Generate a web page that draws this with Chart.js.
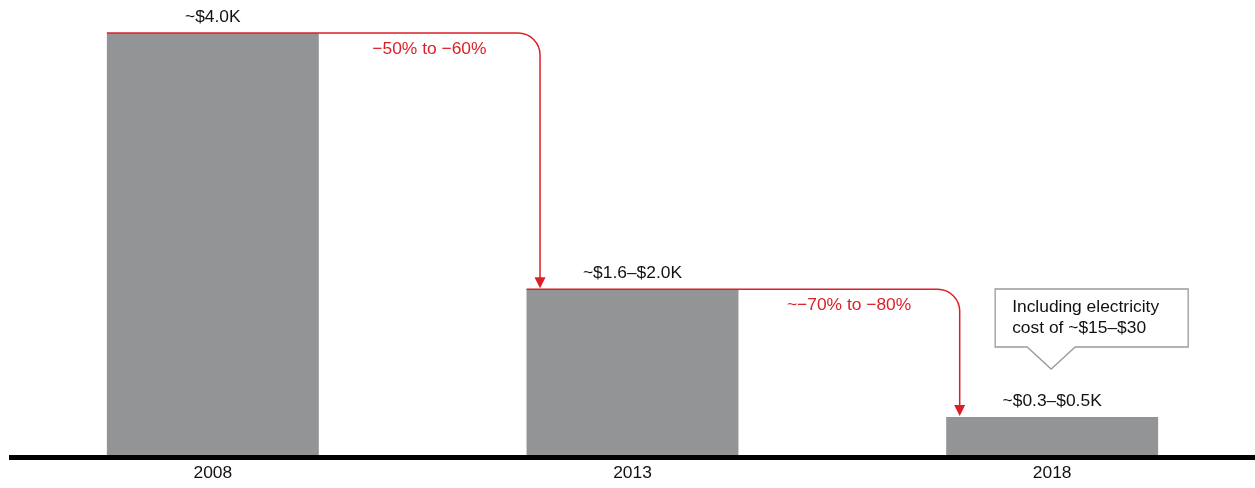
<!DOCTYPE html>
<html>
<head>
<meta charset="utf-8">
<script src="https://cdn.jsdelivr.net/npm/chart.js@4.4.1/dist/chart.umd.min.js"></script>
<style>
  html, body { margin: 0; padding: 0; background: #fff; overflow: hidden; }
  #wrap { position: absolute; left: 0; top: 0; width: 1262px; height: 488px; }
</style>
</head>
<body>
<div id="wrap"><canvas id="costChart" width="1262" height="488"></canvas></div>
<script>
// chart data
const years = ['2008', '2013', '2018'];
const costK = [4.0, 1.57, 0.36];
const valueLabels = ['~$4.0K', '~$1.6–$2.0K', '~$0.3–$0.5K'];
const dropLabels = ['−50% to −60%', '~−70% to −80%'];
const calloutLines = ['Including electricity', 'cost of ~$15–$30'];

const RED = '#dc1f26';
const FONT = '"Liberation Sans", Arial, sans-serif';
const FS = 17.4;

// draws labels, red arrows, callout and the baseline
const annotations = {
  id: 'annotations',
  afterDatasetsDraw(chart) {
    const ctx = chart.ctx;
    const bars = chart.getDatasetMeta(0).data;
    const y0 = chart.scales.y.getPixelForValue(0);

    ctx.save();

    // thick baseline
    ctx.strokeStyle = '#000';
    ctx.lineWidth = 5;
    ctx.beginPath();
    ctx.moveTo(9, y0 + 2.5);
    ctx.lineTo(chart.width, y0 + 2.5);
    ctx.stroke();

    // value labels above bars
    ctx.fillStyle = '#111';
    ctx.font = FS + 'px ' + FONT;
    ctx.textAlign = 'center';
    ctx.textBaseline = 'middle';
    bars.forEach((b, i) => {
      ctx.fillText(valueLabels[i], b.x, b.y - 16);
    });

    // red step arrows between bars
    const r = 22;
    for (let i = 0; i < bars.length - 1; i++) {
      const a = bars[i], n = bars[i + 1];
      const aLeft = a.x - a.width / 2;
      const aRight = a.x + a.width / 2;
      const nLeft = n.x - n.width / 2;
      const ax = nLeft + 13.5;
      const tipY = n.y - 1;

      ctx.strokeStyle = RED;
      ctx.lineWidth = 1.5;
      ctx.beginPath();
      ctx.moveTo(aLeft, a.y);
      ctx.lineTo(ax - r, a.y);
      ctx.arcTo(ax, a.y, ax, a.y + r, r);
      ctx.lineTo(ax, tipY - 9);
      ctx.stroke();

      ctx.fillStyle = RED;
      ctx.beginPath();
      ctx.moveTo(ax - 5.5, tipY - 11);
      ctx.lineTo(ax + 5.5, tipY - 11);
      ctx.lineTo(ax, tipY);
      ctx.closePath();
      ctx.fill();

      ctx.font = FS + 'px ' + FONT;
      ctx.textAlign = 'center';
      ctx.fillText(dropLabels[i], (aRight + ax) / 2, a.y + 16);
    }

    // callout box above last bar
    const last = bars[bars.length - 1];
    const bx0 = last.x - 57, bx1 = last.x + 136;
    const by0 = last.y - 128, by1 = last.y - 70;
    const tipX = last.x - 1, tipY = last.y - 48;
    ctx.strokeStyle = '#9a9a9a';
    ctx.fillStyle = '#fff';
    ctx.lineWidth = 1.3;
    ctx.beginPath();
    ctx.moveTo(bx0, by0);
    ctx.lineTo(bx1, by0);
    ctx.lineTo(bx1, by1);
    ctx.lineTo(tipX + 24, by1);
    ctx.lineTo(tipX, tipY);
    ctx.lineTo(tipX - 24, by1);
    ctx.lineTo(bx0, by1);
    ctx.closePath();
    ctx.fill();
    ctx.stroke();

    ctx.fillStyle = '#111';
    ctx.textAlign = 'left';
    ctx.font = FS + 'px ' + FONT;
    calloutLines.forEach((t, k) => {
      ctx.fillText(t, bx0 + 17, by0 + 18 + k * 21);
    });

    ctx.restore();
  }
};

new Chart(document.getElementById('costChart'), {
  type: 'bar',
  data: {
    labels: years,
    datasets: [{
      data: costK,
      backgroundColor: '#939496',
      borderWidth: 0,
      barPercentage: 0.505,
      categoryPercentage: 1.0
    }]
  },
  options: {
    responsive: false,
    animation: false,
    layout: { padding: { top: 33, left: 3, right: 0, bottom: 4 } },
    plugins: {
      legend: { display: false },
      tooltip: { enabled: false }
    },
    scales: {
      x: {
        grid: { display: false },
        border: { display: false },
        afterFit(scale) { scale.height = 29; },
        ticks: {
          color: '#111',
          padding: 0,
          font: { family: FONT, size: FS }
        }
      },
      y: {
        display: false,
        min: 0,
        max: 4.0
      }
    }
  },
  plugins: [annotations]
});
</script>
</body>
</html>
